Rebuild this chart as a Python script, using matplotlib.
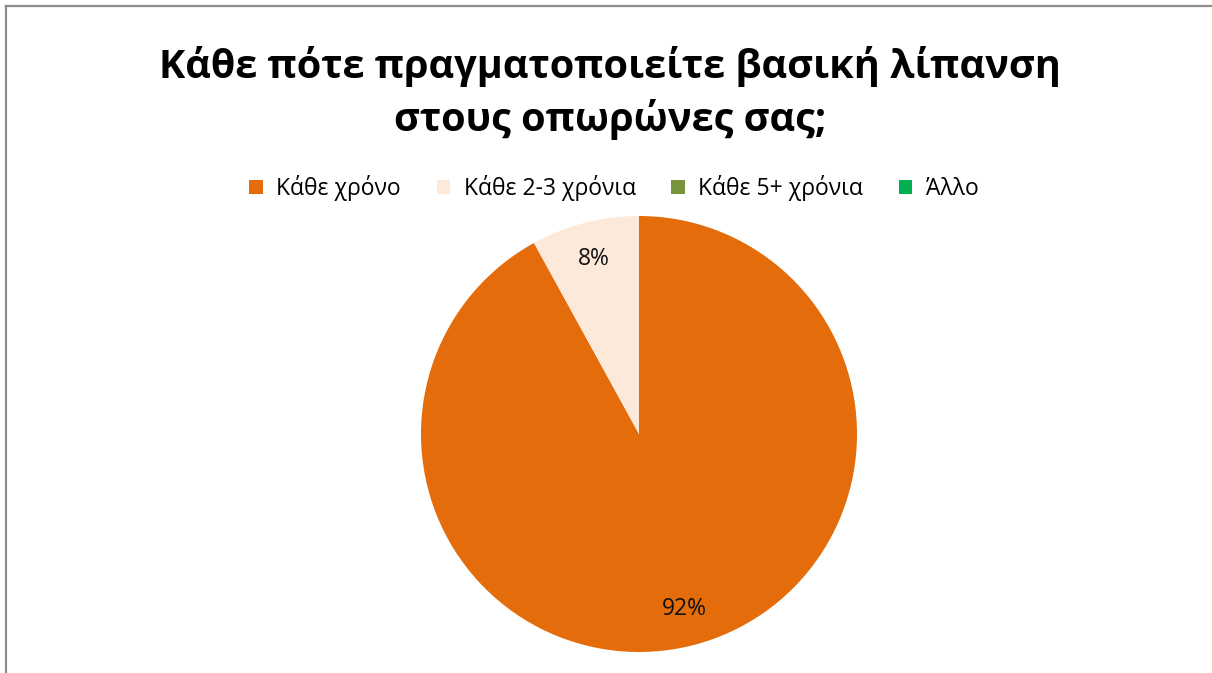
import matplotlib.pyplot as plt
from matplotlib.lines import Line2D
from matplotlib.patches import Patch

# Δεδομένα ερώτησης
categories = ['Κάθε χρόνο', 'Κάθε 2-3 χρόνια', 'Κάθε 5+ χρόνια', 'Άλλο']
values = [92, 8, 0, 0]
colors = ['#E46C0A', '#FDE9D9', '#77933C', '#00B050']
title = 'Κάθε πότε πραγματοποιείτε βασική λίπανση\nστους οπωρώνες σας;'

W, H = 1212, 673
fig = plt.figure(figsize=(W / 100, H / 100), dpi=100)
fig.patch.set_facecolor('white')

# περίγραμμα (πάνω και αριστερά)
fig.add_artist(Line2D([6 / W, 1], [1 - 6 / H, 1 - 6 / H], color='#8C8C8C', lw=1.6))
fig.add_artist(Line2D([6 / W, 6 / W], [0, 1 - 6 / H], color='#8C8C8C', lw=1.6))

fig.text(610 / W, 1 - 93 / H, title, ha='center', va='center',
         fontsize=28.5, fontweight='bold', family='Open Sans', linespacing=1.38)

# πίτα
cx, cy, r = 639, 434, 218
ax = fig.add_axes([(cx - r) / W, (H - cy - r) / H, 2 * r / W, 2 * r / H])


def fmt(pct):
    return f'{pct:.0f}%' if pct > 0.5 else ''


ax.pie(values, colors=colors, startangle=90, counterclock=False,
       autopct=fmt, pctdistance=0.83,
       textprops=dict(fontsize=16.5, family='Open Sans', color='#111111'))
ax.set_xlim(-1, 1)
ax.set_ylim(-1, 1)
ax.set_aspect('equal')
ax.axis('off')

handles = [Patch(facecolor=c, edgecolor='none') for c in colors]
fig.legend(handles, categories, loc='center', bbox_to_anchor=(614 / W, 1 - 188 / H),
           ncol=4, frameon=False, handlelength=0.58, handleheight=0.58,
           handletextpad=0.6, columnspacing=1.55,
           prop=dict(family='Open Sans', size=16.5))

fig.savefig('out.png', dpi=100, facecolor='white')
